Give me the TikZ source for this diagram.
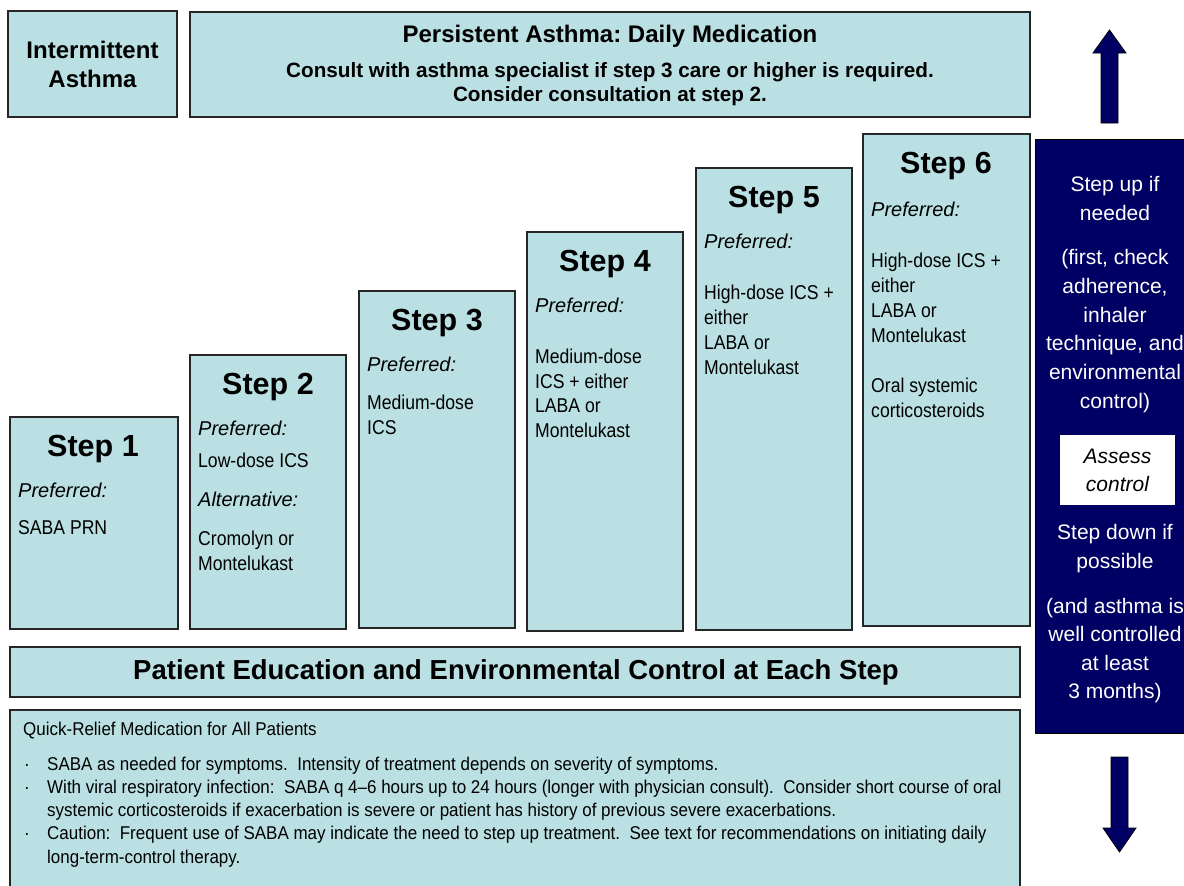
\documentclass[tikz,border=0pt]{standalone}
\usepackage{fontspec}
\setmainfont{Liberation Sans}
\newfontfamily\narrowfont[FakeStretch=0.88]{Liberation Sans}
\newfontfamily\qrfont[FakeStretch=0.918]{Liberation Sans}
\definecolor{boxblue}{RGB}{186,224,227}
\definecolor{navybox}{RGB}{0,0,100}
\frenchspacing
\tikzset{
  box/.style={fill=boxblue, draw=black!85, line width=1.3pt},
  darkbox/.style={fill=navybox, draw=black, line width=1pt},
  arrowshape/.style={fill=navybox, draw=black, line width=0.8pt},
  steptitle/.style={anchor=base, inner sep=0pt, font=\bfseries\fontsize{30.5}{36}\selectfont},
  pref/.style={anchor=base west, inner sep=0pt, font=\itshape\fontsize{20}{24.5}\selectfont},
  drug/.style={anchor=base west, inner sep=0pt, align=left, font=\narrowfont\fontsize{20}{24.7}\selectfont},
  headbold/.style={inner sep=0pt, align=center, font=\bfseries\fontsize{24}{29}\selectfont},
  qrtext/.style={anchor=base west, inner sep=0pt, font=\qrfont\fontsize{18.5}{23}\selectfont},
  sidetext/.style={anchor=base, inner sep=0pt, align=center, text=white, font=\fontsize{21}{28.8}\selectfont},
}
\begin{document}
\begin{tikzpicture}[x=1pt, y=-1pt]
\useasboundingbox (0,0) rectangle (1184,886);
\clip (0,0) rectangle (1184,886);
\fill[white] (0,0) rectangle (1184,886);

% header boxes
\path[box] (8,11) rectangle (177,117);
\path[box] (190,12) rectangle (1030,117);
\node[headbold] (inter) at (92.5,64.5) {Intermittent\\Asthma};
\node[headbold, anchor=base] (pers) at (610,42.5) {Persistent Asthma: Daily Medication};
\node[inner sep=0pt, anchor=base, align=center, font=\bfseries\fontsize{20.7}{24}\selectfont] (consult) at (610,101.5)
  {Consult with asthma specialist if step 3 care or higher is required.\\Consider consultation at step 2.};

% step boxes
\path[box] (10,417) rectangle (178,629);
\path[box] (190,355) rectangle (346,629);
\path[box] (359,291) rectangle (515,628);
\path[box] (527,232) rectangle (683,631);
\path[box] (696,168) rectangle (852,630);
\path[box] (863,134) rectangle (1030,626);

% step 1
\node[steptitle] (s1) at (93,456) {Step 1};
\node[pref] (s1p) at (18,497) {Preferred:};
\node[drug] (s1d) at (18,534) {SABA PRN};
% step 2
\node[steptitle] (s2) at (268,394) {Step 2};
\node[pref] (s2p) at (198,435) {Preferred:};
\node[drug] (s2d) at (198,467) {Low-dose ICS};
\node[pref] (s2a) at (198,506) {Alternative:};
\node[drug] (s2e) at (198,570.5) {Cromolyn or\\Montelukast};
% step 3
\node[steptitle] (s3) at (437,330) {Step 3};
\node[pref] (s3p) at (367,371) {Preferred:};
\node[drug] (s3d) at (367,434.5) {Medium-dose\\ICS};
% step 4
\node[steptitle] (s4) at (605,271) {Step 4};
\node[pref] (s4p) at (535,312) {Preferred:};
\node[drug] (s4d) at (535,437.5) {Medium-dose\\ICS + either\\LABA or\\Montelukast};
% step 5
\node[steptitle] (s5) at (774,207) {Step 5};
\node[pref] (s5p) at (704,248) {Preferred:};
\node[drug] (s5d) at (704,374) {High-dose ICS +\\either\\LABA or\\Montelukast};
% step 6
\node[steptitle] (s6) at (946,173) {Step 6};
\node[pref] (s6p) at (871,216) {Preferred:};
\node[drug] (s6d) at (871,342) {High-dose ICS +\\either\\LABA or\\Montelukast};
\node[drug] (s6e) at (871,417.5) {Oral systemic\\corticosteroids};

% patient education
\path[box] (10,647) rectangle (1020,697);
\node[inner sep=0pt, font=\bfseries\fontsize{27.5}{32}\selectfont] (edu) at (516,672)
  {Patient Education and Environmental Control at Each Step};

% quick relief
\path[box] (10,710) rectangle (1020,900);
\node[qrtext] (qrt) at (23,735.5) {Quick-Relief Medication for All Patients};
\node[qrtext] (b1) at (24,770.5) {·};
\node[qrtext] (b2) at (24,793.5) {·};
\node[qrtext] (b3) at (24,839.5) {·};
\node[qrtext] (q1) at (47,770.5) {SABA as needed for symptoms.\ \ Intensity of treatment depends on severity of symptoms.};
\node[qrtext] (q2) at (47,793.5) {With viral respiratory infection:\ \ SABA q 4–6 hours up to 24 hours (longer with physician consult).\ \ Consider short course of oral};
\node[qrtext] (q3) at (47,816) {systemic corticosteroids if exacerbation is severe or patient has history of previous severe exacerbations.};
\node[qrtext] (q4) at (47,839.5) {Caution:\ \ Frequent use of SABA may indicate the need to step up treatment.\ \ See text for recommendations on initiating daily};
\node[qrtext] (q5) at (47,863) {long-term-control therapy.};

% side panel
\path[darkbox] (1035,139) rectangle (1200,733);
\node[sidetext] (up1) at (1115,220.5) {Step up if\\needed};
\node[sidetext] (up2) at (1115,408.5) {(first, check\\adherence,\\inhaler\\technique, and\\environmental\\control)};
\path[fill=white] (1060,435) rectangle (1175,505);
\node[sidetext, text=black, font=\itshape\fontsize{21}{28}\selectfont] (assess) at (1117.5,491.5) {Assess\\control};
\node[sidetext] (dn1) at (1115,568.5) {Step down if\\possible};
\node[sidetext, font=\fontsize{21}{28.3}\selectfont] (dn2) at (1115,698.5) {(and asthma is\\well controlled\\at least\\3 months)};

% arrows
\path[arrowshape] (1101,123) -- (1101,53) -- (1093,53) -- (1109.5,30) -- (1126,53) -- (1118,53) -- (1118,123) -- cycle;
\path[arrowshape] (1111,757) -- (1128,757) -- (1128,828) -- (1136,828) -- (1119.5,852) -- (1103,828) -- (1111,828) -- cycle;
\end{tikzpicture}
\end{document}
